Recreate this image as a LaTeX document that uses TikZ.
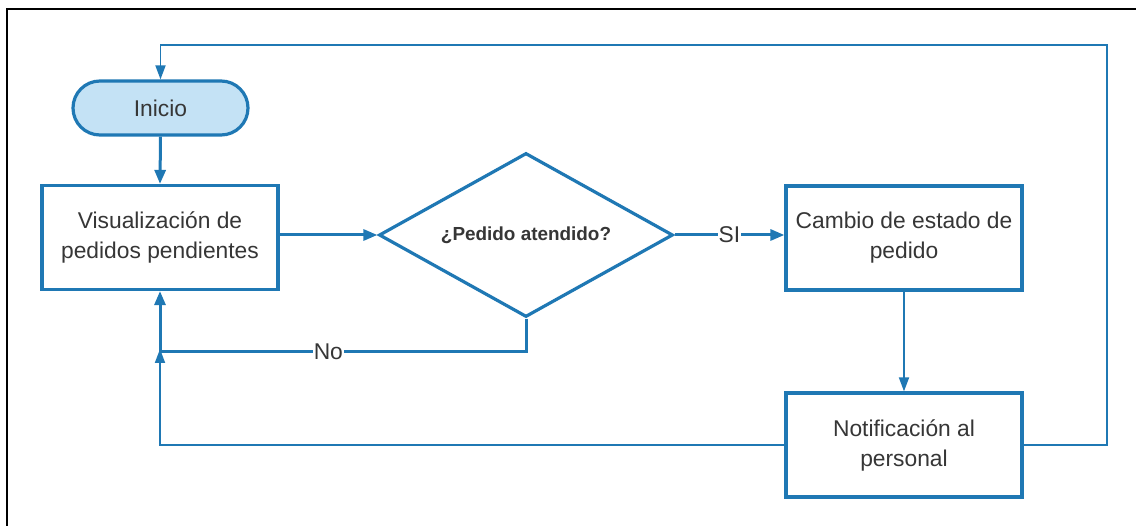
\documentclass[tikz,border=0pt]{standalone}
\usepackage{fontspec}
\setmainfont{Liberation Sans}
\usetikzlibrary{arrows.meta,shapes.geometric}
\definecolor{fcblue}{HTML}{1F78B4}
\definecolor{fcfill}{HTML}{C4E2F5}
\definecolor{fctext}{HTML}{363636}
\begin{document}
\begin{tikzpicture}[x=1pt,y=-1pt,
  txt/.style={text=fctext,font=\fontsize{22.8}{30}\selectfont},
  box/.style={txt,draw=fcblue,line width=3.2pt,fill=white,minimum width=236pt,minimum height=104pt,inner sep=0pt,align=center},
  term/.style={txt,draw=fcblue,line width=3.2pt,fill=fcfill,rounded corners=27pt,minimum width=175pt,minimum height=54pt,inner sep=0pt},
  decision/.style={draw=fcblue,line width=3.2pt,fill=white,diamond,shape aspect=1.79,minimum width=294pt,minimum height=164pt,inner sep=0pt,text=fctext,font=\bfseries\fontsize{18.9}{22}\selectfont},
  thickarrow/.style={draw=fcblue,line width=3pt,-{Triangle[length=14pt,width=11pt]}},
  thinarrow/.style={draw=fcblue,line width=1.8pt,-{Triangle[length=14pt,width=10pt]}},
  thickline/.style={draw=fcblue,line width=3pt},
  lbl/.style={txt,fill=white,inner sep=1pt}
]
\useasboundingbox (0,0) rectangle (1136,526);
\draw[line width=2pt,black] (7,526) -- (7,9) -- (1136,9);

\node[term] (inicio) at (160.5,108) {Inicio};
\node[box] (vis) at (160,237.5) {Visualización de\\pedidos pendientes};
\node[decision] (dia) at (526,235) {¿Pedido atendido?};
\node[box] (cambio) at (904,238) {Cambio de estado de\\pedido};
\node[box] (notif) at (904,445) {Notificación al\\personal};

\coordinate (rt) at (1107,45);
\coordinate (nj) at (160,352);

\draw[thickarrow] (inicio.south) -- (vis.north);
\draw[thickarrow] (vis.east |- dia.west) -- (dia.west);
\draw[thickarrow] (dia.east) -- node[lbl]{SI} (cambio.west |- dia.east);
\draw[thinarrow] (cambio.south) -- (notif.north);
\draw[thinarrow] (notif.east) -| (rt) -| (inicio.north);
\draw[thinarrow] (notif.west) -| ([yshift=3pt]nj);
\draw[thickline] (dia.south) |- node[lbl,pos=0.77]{No} (nj);
\draw[thickarrow] (nj) -- (vis.south);
\end{tikzpicture}
\end{document}
